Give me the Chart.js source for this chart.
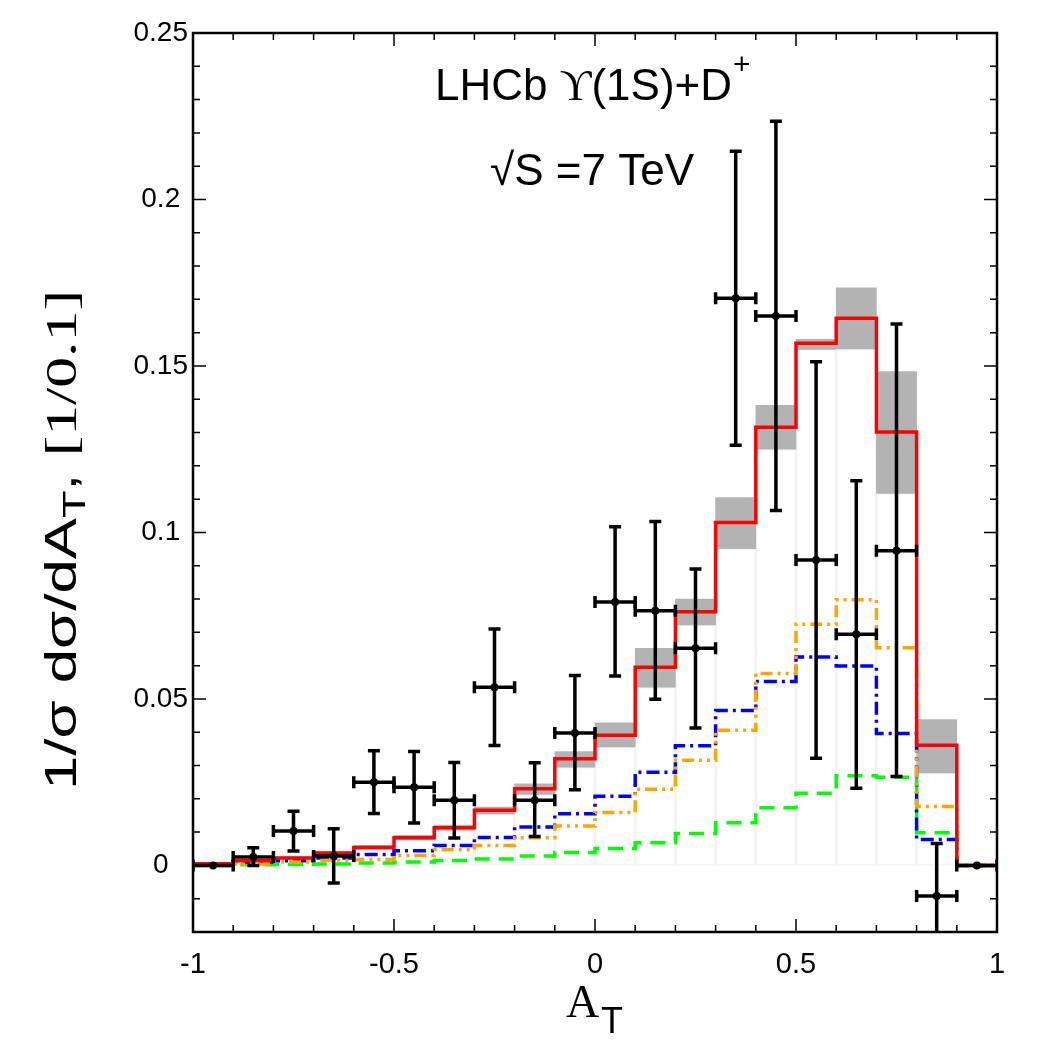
<!DOCTYPE html>
<html>
<head>
<meta charset="utf-8">
<script src="https://cdn.jsdelivr.net/npm/chart.js@4.4.1/dist/chart.umd.min.js"></script>
<style>
  html, body { margin: 0; padding: 0; background: #fff; }
</style>
</head>
<body>
<canvas id="myChart" width="1050" height="1050"></canvas>
<script>
// bin edges and centres of the A_T histogram
const binEdges = [-1, -0.9, -0.8, -0.7, -0.6, -0.5, -0.4, -0.3, -0.2, -0.1, 0, 0.1, 0.2, 0.3, 0.4, 0.5, 0.6, 0.7, 0.8, 0.9, 1];
const binCenters = [-0.95, -0.85, -0.75, -0.65, -0.55, -0.45, -0.35, -0.25, -0.15, -0.05, 0.05, 0.15, 0.25, 0.35, 0.45, 0.55, 0.65, 0.75, 0.85, 0.95];

// theory curves (per bin)
const total = [0.0005, 0.0014, 0.0022, 0.0037, 0.0054, 0.0083, 0.0113, 0.0166, 0.0230, 0.0320, 0.0391, 0.0595, 0.0762, 0.1030, 0.1316, 0.1568, 0.1643, 0.1302, 0.0361, 0];
const bandLow = [0.0003, 0.0011, 0.0019, 0.0033, 0.0049, 0.0077, 0.0106, 0.0155, 0.0213, 0.0295, 0.0356, 0.0535, 0.0722, 0.0951, 0.1250, 0.1550, 0.1551, 0.1117, 0.0278, 0];
const bandHigh = [0.0007, 0.0017, 0.0026, 0.0041, 0.0060, 0.0090, 0.0121, 0.0175, 0.0245, 0.0342, 0.0428, 0.0652, 0.0800, 0.1105, 0.1382, 0.1580, 0.1735, 0.1483, 0.0438, 0];
const blueCurve = [0.0002, 0.0010, 0.0014, 0.0022, 0.0033, 0.0044, 0.0060, 0.0084, 0.0115, 0.0155, 0.0208, 0.0280, 0.0359, 0.0465, 0.0552, 0.0626, 0.0599, 0.0396, 0.0078, 0];
const orangeCurve = [0.0001, 0.0004, 0.0010, 0.0015, 0.0018, 0.0030, 0.0047, 0.0060, 0.0083, 0.0118, 0.0159, 0.0229, 0.0316, 0.0406, 0.0576, 0.0724, 0.0798, 0.0654, 0.0177, 0];
const greenCurve = [0.0000, 0.0002, 0.0003, 0.0004, 0.0007, 0.0010, 0.0015, 0.0019, 0.0028, 0.0039, 0.0051, 0.0068, 0.0096, 0.0128, 0.0173, 0.0217, 0.0269, 0.0265, 0.0098, 0];

// LHCb data points
const dataY = [0.0, 0.0025, 0.0103, 0.0028, 0.0250, 0.0235, 0.0196, 0.0535, 0.0196, 0.0398, 0.0791, 0.0765, 0.0652, 0.1703, 0.1650, 0.0917, 0.0694, 0.0945, -0.0092, 0.0];
const dataLo = [0.0, 0.0, 0.0043, -0.0053, 0.0156, 0.0127, 0.0082, 0.0360, 0.0087, 0.0227, 0.0569, 0.0499, 0.0413, 0.1262, 0.1066, 0.0322, 0.0232, 0.0267, -0.0260, 0.0];
const dataHi = [0.0, 0.0053, 0.0163, 0.0110, 0.0344, 0.0342, 0.0309, 0.0710, 0.0308, 0.0570, 0.1017, 0.1033, 0.0890, 0.2145, 0.2235, 0.1513, 0.1155, 0.1626, 0.0066, 0.0];
const xErr = 0.05;

// tick labels
const xTicks = [-1, -0.5, 0, 0.5, 1];
const yTicks = [0, 0.05, 0.1, 0.15, 0.2, 0.25];

const SANS = "'Liberation Sans', Arial, sans-serif";
const SERIF = "'Liberation Serif', 'DejaVu Serif', serif";

function stepData(vals) {
  const pts = vals.map((v, i) => ({ x: binEdges[i], y: v }));
  pts.push({ x: binEdges[vals.length], y: vals[vals.length - 1] });
  return pts;
}

// draw a list of text pieces fitted into a given width
function drawPieces(ctx, pieces, x, y, width) {
  let w = 0;
  pieces.forEach(p => { ctx.font = p.font; p.w = ctx.measureText(p.t).width; w += p.w; });
  const s = width ? width / w : 1;
  ctx.save();
  ctx.translate(x, y);
  ctx.scale(s, 1);
  let cx = 0;
  pieces.forEach(p => {
    ctx.font = p.font;
    ctx.fillText(p.t, cx, p.dy || 0);
    cx += p.w;
  });
  ctx.restore();
}

const errorBars = {
  id: 'errorBars',
  afterDatasetsDraw(chart) {
    const { ctx, chartArea: a, scales: { x, y } } = chart;
    ctx.save();
    ctx.beginPath();
    ctx.rect(a.left, a.top, a.right - a.left, a.bottom - a.top);
    ctx.clip();
    ctx.strokeStyle = '#000';
    ctx.lineWidth = 3.5;
    binCenters.forEach((c, i) => {
      const px = x.getPixelForValue(c);
      const xl = x.getPixelForValue(c - xErr);
      const xr = x.getPixelForValue(c + xErr);
      const py = y.getPixelForValue(dataY[i]);
      ctx.beginPath();
      ctx.moveTo(xl, py); ctx.lineTo(xr, py);
      ctx.moveTo(xl, py - 6); ctx.lineTo(xl, py + 6);
      ctx.moveTo(xr, py - 6); ctx.lineTo(xr, py + 6);
      if (dataHi[i] > dataLo[i]) {
        const yl = y.getPixelForValue(dataLo[i]);
        const yh = y.getPixelForValue(dataHi[i]);
        ctx.moveTo(px, yl); ctx.lineTo(px, yh);
        ctx.moveTo(px - 6, yl); ctx.lineTo(px + 6, yl);
        ctx.moveTo(px - 6, yh); ctx.lineTo(px + 6, yh);
      }
      ctx.stroke();
    });
    ctx.restore();
  }
};

const frame = {
  id: 'frame',
  afterDraw(chart) {
    const { ctx, chartArea: a, scales: { x, y } } = chart;
    ctx.save();
    ctx.strokeStyle = '#000';
    ctx.lineWidth = 1.5;
    ctx.beginPath();
    for (let k = -9; k <= 9; k++) {
      const v = k / 10;
      const len = (k % 5 === 0) ? 13 : 7;
      const px = x.getPixelForValue(v);
      ctx.moveTo(px, a.bottom); ctx.lineTo(px, a.bottom - len);
      ctx.moveTo(px, a.top); ctx.lineTo(px, a.top + len);
    }
    for (let k = -1; k <= 24; k++) {
      const v = k / 100;
      const len = (k % 5 === 0) ? 13 : 7;
      const py = y.getPixelForValue(v);
      ctx.moveTo(a.left, py); ctx.lineTo(a.left + len, py);
      ctx.moveTo(a.right, py); ctx.lineTo(a.right - len, py);
    }
    ctx.stroke();
    ctx.lineWidth = 2.5;
    ctx.strokeRect(a.left, a.top, a.right - a.left, a.bottom - a.top);

    ctx.fillStyle = '#000';
    ctx.textAlign = 'left';
    ctx.textBaseline = 'alphabetic';

    // in-plot labels
    drawPieces(ctx, [
      { t: 'LHCb ', font: '45px ' + SANS },
      { t: '\u03D2', font: '45px ' + SERIF },
      { t: '(1S)+D', font: '45px ' + SANS }
    ], 435, 100, 297);
    drawPieces(ctx, [{ t: '+', font: '30px ' + SANS }], 733, 74);
    drawPieces(ctx, [{ t: '\u221AS =7 TeV', font: '45px ' + SANS }], 490, 185, 204);

    // x title
    drawPieces(ctx, [{ t: 'A', font: '46px ' + SERIF }], 566, 1017);
    drawPieces(ctx, [{ t: 'T', font: '36px ' + SANS }], 601, 1033);

    // y title
    ctx.save();
    ctx.translate(76, 540);
    ctx.rotate(-Math.PI / 2);
    const pieces = [
      { t: '1/\u03C3 d\u03C3/dA', font: '44px ' + SANS },
      { t: 'T', font: '32px ' + SANS, dy: 9 },
      { t: ', ', font: '44px ' + SANS },
      { t: '[1/0.1]', font: '44px ' + SERIF }
    ];
    drawPieces(ctx, pieces, -250, 0, 500);
    ctx.restore();
    ctx.restore();
  }
};

const ctx = document.getElementById('myChart');

new Chart(ctx, {
  type: 'line',
  data: {
    datasets: [
      {
        type: 'scatter',
        label: 'LHCb',
        data: binCenters.map((c, i) => ({ x: c, y: dataY[i] })),
        pointRadius: 4,
        pointBackgroundColor: '#000',
        pointBorderWidth: 0,
        order: 0
      },
      {
        label: 'total',
        data: stepData(total),
        stepped: true,
        borderColor: '#ff0000',
        borderWidth: 3.5,
        pointRadius: 0,
        fill: false,
        order: 1
      },
      {
        label: 'orange',
        data: stepData(orangeCurve),
        stepped: true,
        borderColor: '#ffa500',
        borderWidth: 3.5,
        borderDash: [12, 5, 3, 5, 3, 5],
        pointRadius: 0,
        fill: false,
        order: 2
      },
      {
        label: 'blue',
        data: stepData(blueCurve),
        stepped: true,
        borderColor: '#0000ff',
        borderWidth: 3.5,
        borderDash: [13, 5, 3, 5],
        pointRadius: 0,
        fill: false,
        order: 3
      },
      {
        label: 'green',
        data: stepData(greenCurve),
        stepped: true,
        borderColor: '#00ff00',
        borderWidth: 3.5,
        borderDash: [15, 9],
        pointRadius: 0,
        fill: false,
        order: 4
      },
      {
        type: 'bar',
        label: 'band',
        data: binCenters.map((c, i) => ({ x: c, y: [bandLow[i], bandHigh[i]] })),
        backgroundColor: '#b3b3b3',
        borderWidth: 0,
        barPercentage: 1,
        categoryPercentage: 1,
        grouped: false,
        order: 5
      },
      {
        type: 'bar',
        label: 'outline',
        data: binCenters.map((c, i) => ({ x: c, y: [0, bandLow[i]] })),
        backgroundColor: 'rgba(0,0,0,0)',
        borderColor: '#f3f3f3',
        borderWidth: 1,
        borderSkipped: false,
        barPercentage: 1,
        categoryPercentage: 1,
        grouped: false,
        order: 6
      }
    ]
  },
  options: {
    responsive: false,
    animation: false,
    devicePixelRatio: 1,
    layout: { padding: { left: 0, right: 53, top: 33, bottom: 0 } },
    plugins: { legend: { display: false }, tooltip: { enabled: false } },
    scales: {
      x: {
        type: 'linear',
        min: -1,
        max: 1,
        offset: false,
        grid: { display: false, drawTicks: false },
        border: { display: false },
        afterBuildTicks: s => { s.ticks = xTicks.map(v => ({ value: v })); },
        afterFit: s => { s.height = 118; },
        ticks: {
          padding: 16,
          color: '#000',
          maxRotation: 0,
          font: { family: "'Liberation Sans Narrow', 'Liberation Sans', Arial, sans-serif", size: 29 },
          callback: v => String(v)
        }
      },
      y: {
        type: 'linear',
        min: -0.02,
        max: 0.25,
        grid: { display: false, drawTicks: false },
        border: { display: false },
        afterBuildTicks: s => { s.ticks = yTicks.map(v => ({ value: v })); },
        afterFit: s => { s.width = 193; },
        ticks: {
          padding: 5,
          crossAlign: 'center',
          color: '#000',
          font: { family: SANS, size: 28 },
          callback: v => String(v)
        }
      }
    }
  },
  plugins: [errorBars, frame]
});
</script>
</body>
</html>
